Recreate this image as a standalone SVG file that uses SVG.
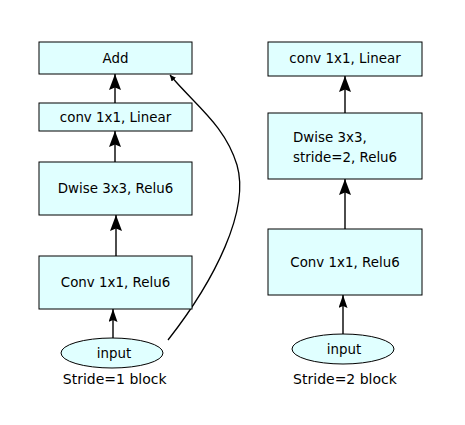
<svg xmlns="http://www.w3.org/2000/svg" width="465" height="425" viewBox="0 0 465 425">
<style>
.box{fill:#e0ffff;stroke:#000;stroke-width:1}
.t{font-family:"DejaVu Sans",sans-serif;font-size:13.4px;fill:#000}
.c{text-anchor:middle}
.lbl{font-size:14px}
.e{stroke:#000;stroke-width:1.4;fill:none}
.big{marker-end:url(#ah)}
.sml{marker-end:url(#ahs)}
</style>
<defs>
<marker id="ah" markerWidth="16" markerHeight="12" refX="16" refY="6" orient="auto" markerUnits="userSpaceOnUse" viewBox="0 0 16 12">
<path d="M16,6 L0,12 L2.5,6 L0,0 Z" fill="#000"/>
</marker>
<marker id="ahs" markerWidth="13" markerHeight="9" refX="13" refY="4.5" orient="auto" markerUnits="userSpaceOnUse" viewBox="0 0 13 9">
<path d="M13,4.5 L0,9 L2,4.5 L0,0 Z" fill="#000"/>
</marker>
<marker id="ahc" markerWidth="6" markerHeight="6" refX="6" refY="3" orient="auto" markerUnits="userSpaceOnUse" viewBox="0 0 6 6">
<path d="M6,3 L0,6 L0,0 Z" fill="#000"/>
</marker>
</defs>
<rect width="465" height="425" fill="#fff"/>
<g id="connectors">
<path d="M115,103 V74" class="e big"/>
<path d="M115,162 V131" class="e big"/>
<path d="M116,256 V215" class="e big"/>
<path d="M113,338 V309" class="e sml"/>
<path d="M345,113 V76" class="e big"/>
<path d="M345,229 V179" class="e big"/>
<path d="M343,334 V295" class="e sml"/>
<path d="M168,340 C215,280 250,210 237,165 C225,125 195,105 170,75" stroke="#000" stroke-width="1.3" fill="none" marker-end="url(#ahc)"/>
</g>
<g id="add"><rect class="box" x="39" y="42" width="153" height="32"/><text class="t c" x="115.5" y="63">Add</text></g>
<g id="convlin1"><rect class="box" x="39" y="103" width="153" height="28"/><text class="t c" x="115.5" y="122">conv 1x1, Linear</text></g>
<g id="dwise1"><rect class="box" x="39" y="162" width="153" height="53"/><text class="t c" x="115.5" y="193">Dwise 3x3, Relu6</text></g>
<g id="conv1"><rect class="box" x="39" y="256" width="153" height="53"/><text class="t c" x="115.5" y="287">Conv 1x1, Relu6</text></g>
<g id="input1"><ellipse class="box" cx="112" cy="353" rx="51" ry="15"/><text class="t c" x="114" y="357.5">input</text></g>
<text class="t c lbl" x="114.7" y="384">Stride=1 block</text>
<g id="convlin2"><rect class="box" x="268" y="42" width="154" height="34"/><text class="t c" x="345" y="62.5">conv 1x1, Linear</text></g>
<g id="dwise2"><rect class="box" x="268" y="113" width="154" height="66"/><text class="t" x="293" y="142">Dwise 3x3,</text><text class="t" x="293" y="161.5">stride=2, Relu6</text></g>
<g id="conv2"><rect class="box" x="268" y="229" width="154" height="66"/><text class="t c" x="345" y="266.5">Conv 1x1, Relu6</text></g>
<g id="input2"><ellipse class="box" cx="343" cy="349" rx="51" ry="15"/><text class="t c" x="344" y="353.5">input</text></g>
<text class="t c lbl" x="345" y="384">Stride=2 block</text>
</svg>
